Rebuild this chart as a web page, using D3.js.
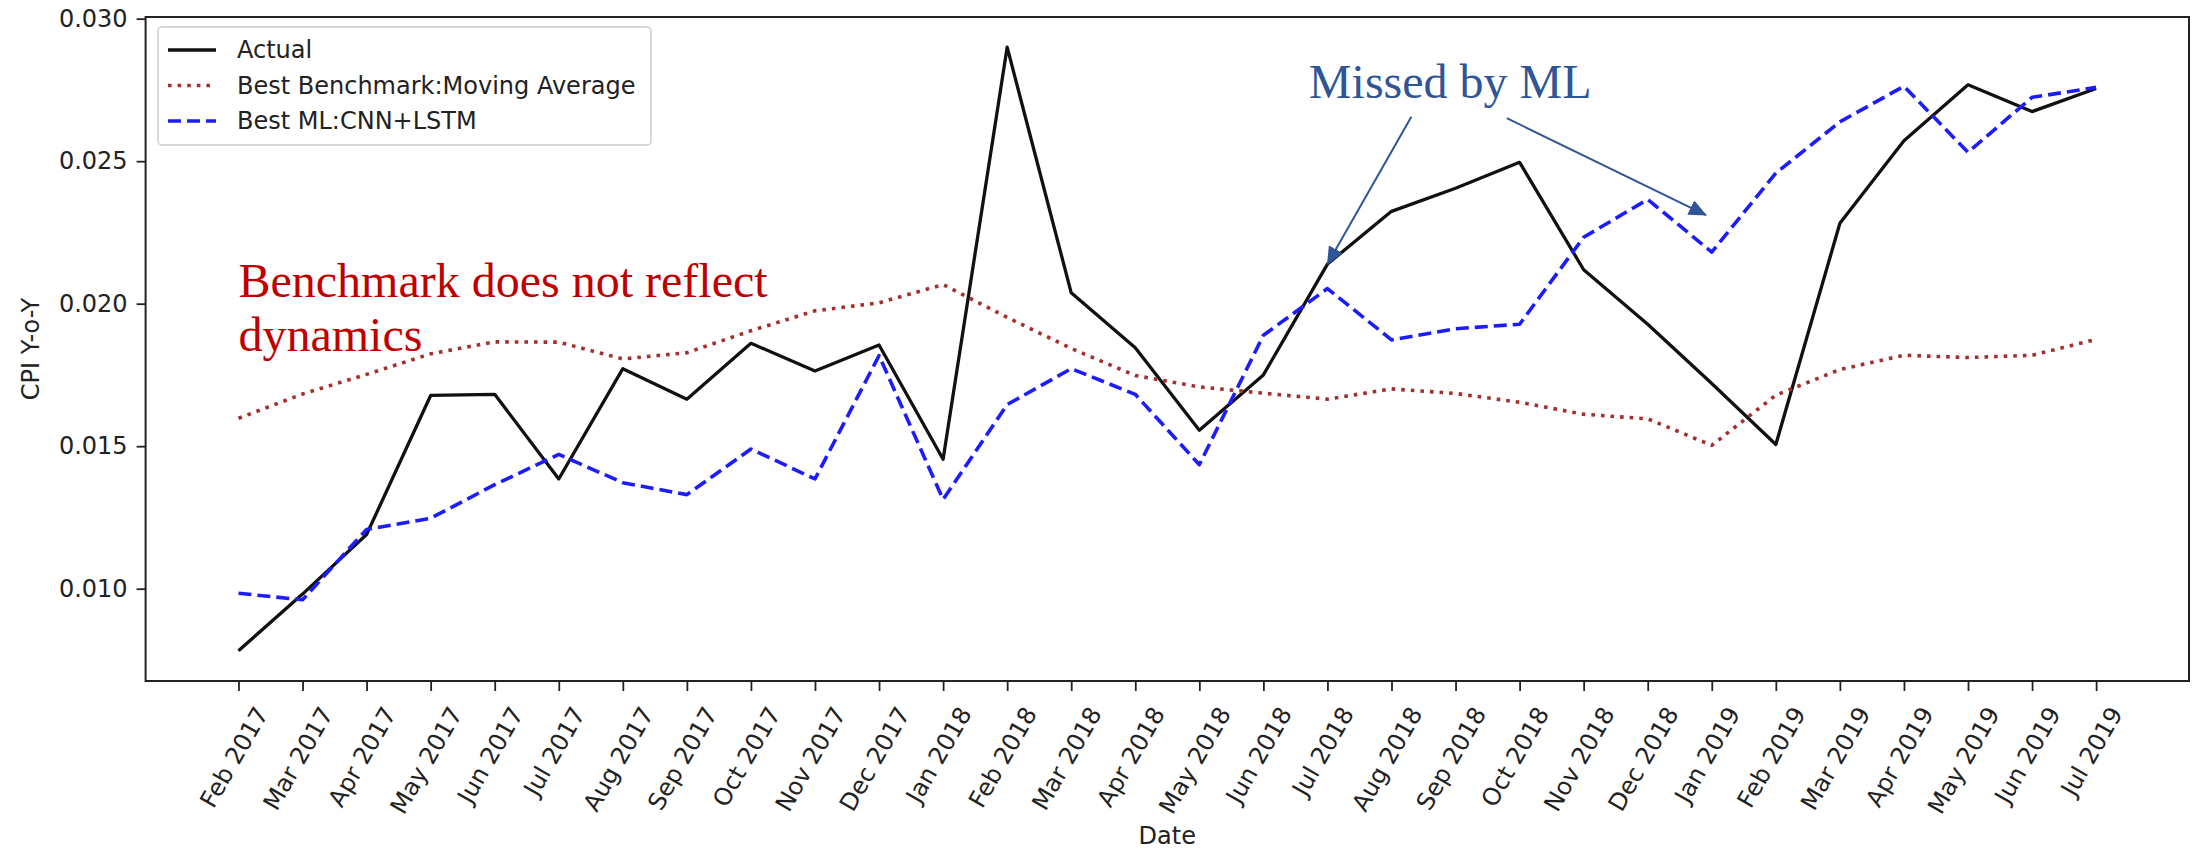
<!DOCTYPE html>
<html><head><meta charset="utf-8">
<script src="https://cdn.jsdelivr.net/npm/d3@7"></script>
<style>body{margin:0;background:#fff} svg{display:block}</style>
</head><body>
<svg id="chart" width="2196" height="850"></svg>
<script>
const months = ["Feb 2017","Mar 2017","Apr 2017","May 2017","Jun 2017","Jul 2017","Aug 2017","Sep 2017","Oct 2017","Nov 2017","Dec 2017","Jan 2018",
  "Feb 2018","Mar 2018","Apr 2018","May 2018","Jun 2018","Jul 2018","Aug 2018","Sep 2018","Oct 2018","Nov 2018","Dec 2018","Jan 2019",
  "Feb 2019","Mar 2019","Apr 2019","May 2019","Jun 2019","Jul 2019"];
const actual = [0.00782,0.00981,0.01190,0.01678,0.01682,0.01385,0.01772,0.01665,0.01861,0.01764,0.01855,0.01454,
  0.02900,0.02038,0.01845,0.01556,0.01750,0.02139,0.02324,0.02405,0.02496,0.02119,0.01928,0.01720,
  0.01506,0.02282,0.02572,0.02768,0.02674,0.02755];
const benchmark = [0.01598,0.01683,0.01752,0.01824,0.01866,0.01865,0.01806,0.01828,0.01905,0.01975,0.02003,0.02067,
  0.01952,0.01843,0.01748,0.01708,0.01686,0.01665,0.01701,0.01685,0.01654,0.01612,0.01596,0.01503,
  0.01679,0.01769,0.01819,0.01811,0.01819,0.01875];
const mlPred = [0.00984,0.00961,0.01208,0.01247,0.01365,0.01471,0.01372,0.01330,0.01490,0.01385,0.01818,0.01313,
  0.01646,0.01772,0.01682,0.01435,0.01889,0.02053,0.01873,0.01912,0.01928,0.02233,0.02366,0.02181,
  0.02458,0.02638,0.02763,0.02531,0.02724,0.02759];
const yTicks = [0.010,0.015,0.020,0.025,0.030];
const seriesNames = ["Actual","Best Benchmark:Moving Average","Best ML:CNN+LSTM"];
// annotation anchors in data coordinates (month index, value)
const noteBenchmark = {lines:["Benchmark does not reflect","dynamics"], i:0, v:0.02023, v2:0.01834};
const noteML = {text:"Missed by ML", i:16.71, v:0.02722};
const arrowsML = [
  {from:[18.31,0.02656], to:[17,0.02139]},
  {from:[19.80,0.02651], to:[22.91,0.02311]}
];

const W = 2196, H = 850;
const plot = {left:145.6, right:2189, top:17, bottom:681};
const sans = '"DejaVu Sans", sans-serif';
const serif = '"Liberation Serif", "Times New Roman", serif';
const ink = "#222";
const svg = d3.select("#chart");

const x = d3.scalePoint().domain(months).range([plot.left, plot.right]).padding(1.45);
const step = x.step();
const xi = i => x(months[0]) + i * step;
const all = actual.concat(benchmark, mlPred);
const [mn, mx] = d3.extent(all);
const pad = (mx - mn) * 0.05;
const y = d3.scaleLinear().domain([mn - pad, mx + pad]).range([plot.bottom, plot.top]);

const styles = [
  {color:"#111111", width:3.3, dash:null},
  {color:"#a3302e", width:3.6, dash:"3.6,6"},
  {color:"#1c1cff", width:3.6, dash:"13,6"}
];
const seriesData = [actual, benchmark, mlPred];

// axes
const gx = svg.append("g").attr("transform", `translate(0,${plot.bottom})`)
  .call(d3.axisBottom(x).tickSize(10).tickSizeOuter(0));
gx.select(".domain").remove();
gx.selectAll(".tick line").attr("stroke", ink).attr("stroke-width", 1.8);
gx.selectAll(".tick text")
  .attr("font-family", sans).attr("font-size", 24).attr("fill", ink)
  .attr("text-anchor", "end").attr("x", 0).attr("y", 0).attr("dy", "0.35em")
  .each(function(){
    const L = this.getComputedTextLength();
    d3.select(this).attr("transform", `translate(${L/4 - 5},28) rotate(-60)`);
  });

const gy = svg.append("g").attr("transform", `translate(${plot.left},0)`)
  .call(d3.axisLeft(y).tickValues(yTicks).tickFormat(d3.format(".3f")).tickSize(9).tickPadding(9));
gy.select(".domain").remove();
gy.selectAll(".tick line").attr("stroke", ink).attr("stroke-width", 1.8);
gy.selectAll(".tick text").attr("font-family", sans).attr("font-size", 24).attr("fill", ink);

// lines
const line = d3.line().x((d, i) => x(months[i])).y(d => y(d));
seriesData.forEach((s, k) => {
  svg.append("path").datum(s)
    .attr("d", line)
    .attr("fill", "none")
    .attr("stroke", styles[k].color)
    .attr("stroke-width", styles[k].width)
    .attr("stroke-linejoin", "round")
    .attr("stroke-dasharray", styles[k].dash);
});

// frame
svg.append("rect").attr("x", plot.left).attr("y", plot.top)
  .attr("width", plot.right - plot.left).attr("height", plot.bottom - plot.top)
  .attr("fill", "none").attr("stroke", ink).attr("stroke-width", 2);

// axis labels
svg.append("text").attr("x", (plot.left + plot.right) / 2).attr("y", 836).attr("dy", "0.35em")
  .attr("text-anchor", "middle").attr("font-family", sans).attr("font-size", 24).attr("fill", ink).text("Date");
svg.append("text").attr("transform", `translate(31,${(plot.top + plot.bottom) / 2}) rotate(-90)`).attr("dy", "0.35em")
  .attr("text-anchor", "middle").attr("font-family", sans).attr("font-size", 24).attr("fill", ink).text("CPI Y-o-Y");

// legend
const lg = svg.append("g");
lg.append("rect").attr("x", 158).attr("y", 27).attr("width", 493).attr("height", 118).attr("rx", 4)
  .attr("fill", "#fff").attr("fill-opacity", 0.8).attr("stroke", "#cccccc").attr("stroke-width", 1.5);
seriesNames.forEach((name, k) => {
  const cy = 50 + k * 35.5;
  lg.append("line").attr("x1", 168).attr("x2", 216).attr("y1", cy).attr("y2", cy)
    .attr("stroke", styles[k].color).attr("stroke-width", styles[k].width)
    .attr("stroke-dasharray", styles[k].dash);
  lg.append("text").attr("x", 237).attr("y", cy).attr("dy", "0.35em")
    .attr("font-family", sans).attr("font-size", 24).attr("fill", ink).text(name);
});

// annotations
svg.append("text").attr("x", xi(noteBenchmark.i)).attr("y", y(noteBenchmark.v))
  .attr("font-family", serif).attr("font-size", 48).attr("fill", "#c00000").text(noteBenchmark.lines[0]);
svg.append("text").attr("x", xi(noteBenchmark.i)).attr("y", y(noteBenchmark.v2))
  .attr("font-family", serif).attr("font-size", 48).attr("fill", "#c00000").text(noteBenchmark.lines[1]);
svg.append("text").attr("x", xi(noteML.i)).attr("y", y(noteML.v))
  .attr("font-family", serif).attr("font-size", 48).attr("fill", "#2f5597").text(noteML.text);

const defs = svg.append("defs");
defs.append("marker").attr("id", "ah").attr("markerUnits", "userSpaceOnUse")
  .attr("markerWidth", 18).attr("markerHeight", 16).attr("refX", 17).attr("refY", 8)
  .attr("orient", "auto")
  .append("path").attr("d", "M0,0 L18,8 L0,16 Z").attr("fill", "#2f5597");
arrowsML.forEach(a => {
  svg.append("line")
    .attr("x1", xi(a.from[0])).attr("y1", y(a.from[1]))
    .attr("x2", xi(a.to[0])).attr("y2", y(a.to[1]))
    .attr("stroke", "#2f5597").attr("stroke-width", 2).attr("marker-end", "url(#ah)");
});
</script>
</body></html>
